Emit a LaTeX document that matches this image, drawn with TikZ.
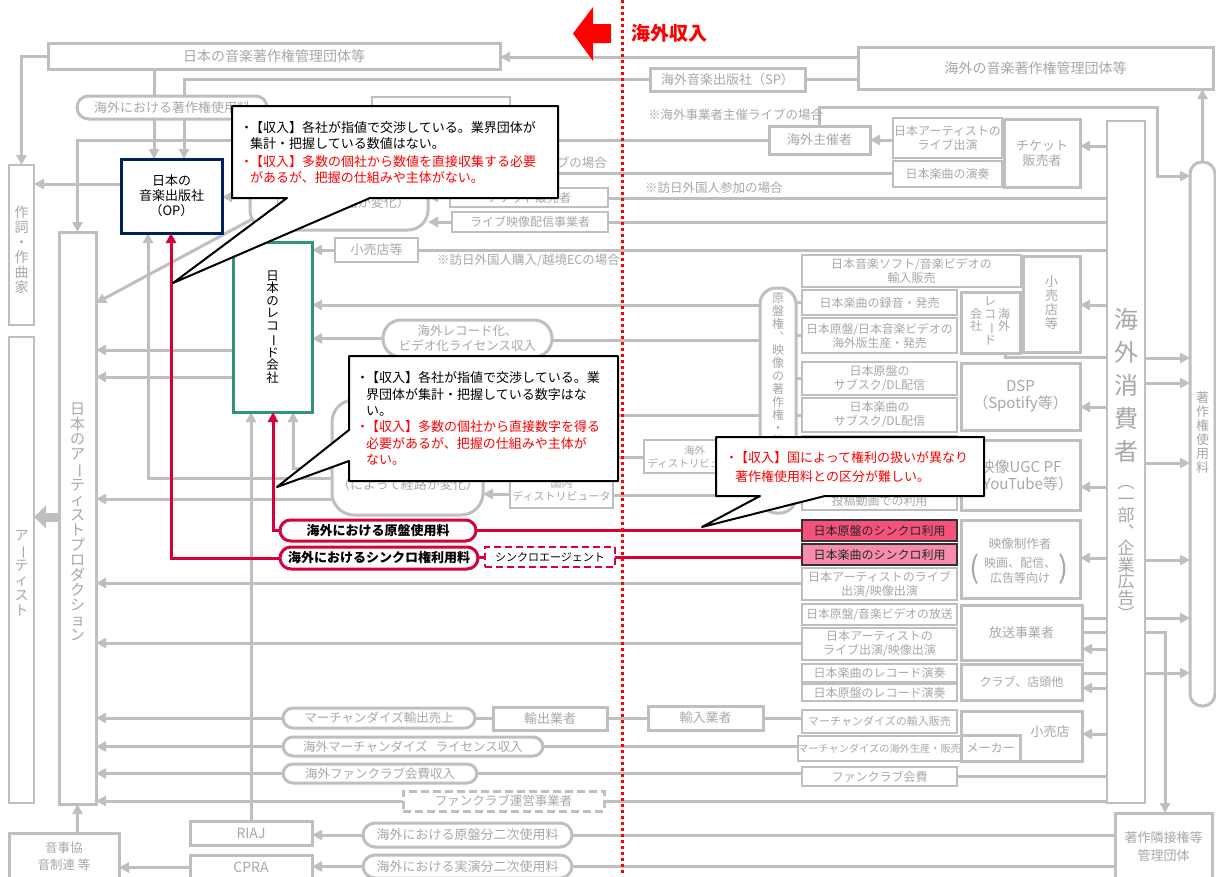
\documentclass[tikz,border=0pt]{standalone}
\usepackage{fontspec}
\setmainfont{Noto Sans CJK JP}
\usepackage{graphicx}
\usetikzlibrary{arrows.meta,calc}
\definecolor{lg}{RGB}{191,191,191}
\definecolor{tg}{RGB}{168,168,168}
\definecolor{navy}{RGB}{0,32,96}
\definecolor{rgreen}{RGB}{48,150,110}
\definecolor{crim}{RGB}{214,0,58}
\definecolor{pinkA}{RGB}{244,82,122}
\definecolor{pinkB}{RGB}{247,140,172}
\definecolor{hred}{RGB}{255,0,0}
\newcommand\fs[2]{\fontsize{#1}{#2}\selectfont}
\newcommand\vb{\rotatebox[origin=c]{-90}{ー}}
\newcommand\bul{\makebox[10pt][l]{・}}
\newcommand\mkbox[7][]{\node[#1,minimum width={#5-#3},minimum height={#6-#4}] (#2) at ({(#3+#5)/2},{(#4+#6)/2}) {#7};}
\pgfdeclarelayer{bg}\pgfsetlayers{bg,main}
\tikzset{
 base/.style={inner sep=0pt, outer sep=0pt, align=center, text=tg, font=\fs{13}{15}},
 gb/.style={base, draw=lg, line width=3pt, fill=white},
 tb/.style={base, draw=lg, line width=1.8pt, fill=white},
 pil/.style={gb, rounded corners=#1}, pil/.default=10pt,
 lbl/.style={inner sep=0pt, text=tg, font=\fs{12.5}{14}, align=center},
 gl/.style={draw=lg, line width=3pt},
 ga/.style={gl, -{Triangle[length=10pt,width=10pt]}},
 rl/.style={draw=crim, line width=3pt},
 ra/.style={rl, -{Triangle[length=10pt,width=10pt]}},
 call/.style={fill=white, draw=black, line width=2pt, line join=round},
 ctext/.style={anchor=north west, align=left, inner sep=0pt, font=\fs{13}{16}},
}
\begin{document}
\begin{tikzpicture}[x=1pt,y=-1pt]
\useasboundingbox (0,0) rectangle (1216,876);
% ---------- top ----------
\mkbox[gb,font=\fs{14}{16}]{jasrac}{48}{43}{500}{69}{日本の音楽著作権管理団体等}
\mkbox[gb,font=\fs{14}{16}]{fcmo}{858}{47}{1213}{89}{海外の音楽著作権管理団体等}
\mkbox[gb]{sp}{650}{68}{805}{91}{海外音楽出版社（SP）}
\mkbox[pil=11.5pt]{royal}{77}{96}{267}{119}{海外における著作権使用料}
\mkbox[gb,line width=2pt]{hid}{372}{97}{510}{125}{}
\mkbox[base,draw=navy,line width=3pt,fill=white,text=black]{op}{121}{159}{222}{233}{日本の\\音楽出版社\\（OP）}
\mkbox[tb]{writer}{9}{165}{34}{325}{}
\node[base,font=\fs{14}{15}] (writerT) at (21.5,250) {作\\詞\\・\\作\\曲\\家};
\mkbox[tb]{artist}{9}{337}{34}{803}{}
\node[base,font=\fs{14}{15}] (artistT) at (21.5,573) {ア\\\vb\\テ\\ィ\\ス\\ト};
\mkbox[gb]{prod}{59}{232}{96}{804}{}
\node[base,font=\fs{15}{15}] (prodT) at (77.5,522) {日\\本\\の\\ア\\\vb\\テ\\ィ\\ス\\ト\\プ\\ロ\\ダ\\ク\\シ\\ョ\\ン};
\mkbox[base,draw=rgreen,line width=3pt,fill=white]{rec}{233}{242}{312}{412}{}
\node[base,text=black,font=\fs{12.5}{12.5}] (recT) at (272.5,327) {日\\本\\の\\レ\\コ\\\vb\\ド\\会\\社};
\mkbox[gb,rounded corners=20pt]{route1}{250}{158}{428}{230}{}
\node[lbl,font=\fs{13}{15}] (route1T) at (339,203) {（によって経路が変化）};
\mkbox[gb]{kshu}{769}{126}{870}{154}{海外主催者}
\mkbox[tb,font=\fs{12}{14}]{liveperf}{893}{118}{1002}{158}{日本アーティストの\\ライブ出演}
\mkbox[tb,font=\fs{12}{14}]{perform}{893}{161}{1002}{187}{日本楽曲の演奏}
\mkbox[gb]{ticket}{1004}{119}{1080}{187}{チケット\\販売者}
\mkbox[gb,line width=2.5pt,font=\fs{12}{14}]{ticketjp}{450}{188}{608}{207}{チケット販売者}
\mkbox[gb,line width=2.5pt,font=\fs{12}{14}]{lstream}{452}{212}{608}{232}{ライブ映像配信事業者}
\mkbox[gb,line width=2.5pt]{retailjp}{335}{238}{418}{262}{小売店等}
\mkbox[tb]{consumer}{1107}{121}{1145}{803}{}
\node[base,font=\fs{24}{33}] (consT1) at (1126,385) {海\\外\\消\\費\\者};
\node[base,font=\fs{17}{16.5}] (consT2) at (1126,553) {︵\\一\\部\\︑\\企\\業\\広\\告\\︶};
\mkbox[gb,rounded corners=12pt]{copy}{1190}{162}{1215}{706}{}
\node[base,font=\fs{13}{14}] (copyT) at (1202.5,433) {著\\作\\権\\使\\用\\料};
\node[lbl,anchor=west] (lab1) at (648,115) {※海外事業者主催ライブの場合};
\node[lbl,anchor=west] (lab2) at (645,188) {※訪日外国人参加の場合};
\node[lbl,anchor=west] (lab3) at (437,260) {※訪日外国人購入/越境ECの場合};
\node[lbl,anchor=east] (lab4) at (607,163) {※日本事業者主催ライブの場合};
% ---------- right middle ----------
\mkbox[tb,font=\fs{12}{14}]{imsoft}{802}{255}{1021}{287}{日本音楽ソフト/音楽ビデオの\\輸入販売}
\mkbox[gb]{kouri}{1023}{256}{1080}{352}{}
\node[base,font=\fs{13}{14}] (kouriT) at (1051.5,303) {小\\売\\店\\等};
\mkbox[gb]{krec}{961}{292}{1020}{353}{}
\node[base,font=\fs{12}{12.5}] (krecT1) at (1004,320) {海\\外};
\node[base,font=\fs{12}{12.5}] (krecT2) at (990,321) {レ\\コ\\\vb\\ド};
\node[base,font=\fs{12}{12.5}] (krecT3) at (976,320) {会\\社};
\mkbox[tb,font=\fs{12}{14}]{rokuon}{802}{290}{957}{315}{日本楽曲の録音・発売}
\mkbox[tb,font=\fs{11.8}{14}]{kban}{802}{318}{957}{353}{日本原盤/日本音楽ビデオの\\海外版生産・発売}
\mkbox[tb,font=\fs{12}{14}]{subg}{802}{362}{957}{395}{日本原盤の\\サブスク/DL配信}
\mkbox[tb,font=\fs{12}{14}]{subm}{802}{398}{957}{432}{日本楽曲の\\サブスク/DL配信}
\mkbox[tb]{ugc1}{802}{436}{957}{471}{}
\mkbox[tb]{ugc2}{802}{475}{957}{510}{}
\node[lbl,font=\fs{12}{14}] (ugc2T) at (879.5,501) {投稿動画での利用};
\mkbox[gb,font=\fs{15}{17}]{dsp}{961}{363}{1080}{430}{DSP\\（Spotify等）}
\mkbox[gb,font=\fs{15}{17}]{ugcpf}{961}{440}{1080}{510}{映像UGC PF\\（YouTube等）}
\mkbox[base,draw=black!80,line width=1.5pt,fill=pinkA,text=black!85,font=\fs{12}{14}]{jsync}{802}{520}{957}{541}{日本原盤のシンクロ利用}
\mkbox[base,draw=black!80,line width=1.5pt,fill=pinkB,text=black!85,font=\fs{12}{14}]{msync}{802}{544}{957}{565}{日本楽曲のシンクロ利用}
\mkbox[tb,font=\fs{12}{14}]{livemv}{802}{568}{957}{600}{日本アーティストのライブ\\出演/映像出演}
\mkbox[gb]{eizo}{961}{520}{1080}{598}{}
\node[lbl,font=\fs{12.5}{14}] (eizoT1) at (1020,544) {映像制作者};
\node[lbl,font=\fs{12}{15}] (eizoT2) at (1020,571) {映画、配信、\\広告等向け};
\node[lbl,font=\fs{30}{30}] (eizoP1) at (975,569) {(};
\node[lbl,font=\fs{30}{30}] (eizoP2) at (1064,569) {)};
\mkbox[tb,font=\fs{11.8}{14}]{hosog}{802}{604}{957}{625}{日本原盤/音楽ビデオの放送}
\mkbox[tb,font=\fs{12}{14}]{hosol}{802}{628}{957}{660}{日本アーティストの\\ライブ出演/映像出演}
\mkbox[gb]{hoso}{961}{605}{1082}{660}{放送事業者}
\mkbox[tb,font=\fs{12}{14}]{rp1}{802}{664}{957}{682}{日本楽曲のレコード演奏}
\mkbox[tb,font=\fs{12}{14}]{rp2}{802}{684}{957}{701}{日本原盤のレコード演奏}
\mkbox[gb,font=\fs{12}{14}]{club}{961}{664}{1082}{700}{クラブ、店頭他}
\mkbox[tb,font=\fs{11}{13}]{mimp}{802}{710}{957}{733}{マーチャンダイズの輸入販売}
\mkbox[tb,font=\fs{10.2}{13}]{mprod}{802}{736}{957}{761}{マーチャンダイズの海外生産・販売}
\mkbox[tb,font=\fs{12}{14}]{fcfee}{802}{767}{957}{786}{ファンクラブ会費}
\mkbox[gb]{shop}{961}{711}{1082}{761}{}
\mkbox[gb,font=\fs{12}{14}]{maker}{961}{735}{1020}{761}{メーカー}
\node[lbl,font=\fs{13}{15}] (shopT) at (1050,732) {小売店};
\mkbox[gb,rounded corners=16pt]{genban}{760}{288}{796}{513}{}
\node[base,font=\fs{12}{13}] (genbanT) at (778,370) {原\\盤\\権\\︑\\映\\像\\の\\著\\作\\権\\・\\隣};
\mkbox[gb,rounded corners=18pt,font=\fs{12.5}{15}]{recpill}{383}{320}{552}{357}{海外レコード化、\\ビデオ化ライセンス収入}
\mkbox[gb,rounded corners=22pt]{route2}{332}{400}{483}{515}{}
\node[lbl,font=\fs{13}{15}] (route2T) at (408,485) {（によって経路が変化）};
\mkbox[gb,line width=2.5pt,font=\fs{11}{13}]{kdist}{510}{472}{613}{508}{国内\\ディストリビュータ}
\mkbox[gb,line width=2.5pt,font=\fs{10.5}{13}]{odist}{644}{440}{745}{473}{海外\\ディストリビュータ}
% ---------- red pills ----------
\mkbox[base,draw=crim,line width=3pt,fill=white,text=black,rounded corners=10.5pt,font={\fs{13}{15}\bfseries}]{genpill}{280}{520}{476}{541}{海外における原盤使用料}
\mkbox[base,draw=crim,line width=3pt,fill=white,text=black,rounded corners=11pt,font={\fs{13}{15}\bfseries}]{syncpill}{280}{547}{478}{569}{海外におけるシンクロ権利用料}
\mkbox[base,draw=crim,line width=2.5pt,dash pattern=on 7pt off 4pt,fill=white,text=black,font=\fs{11}{13}]{agent}{485}{547}{615}{567}{シンクロエージェント}
% ---------- bottom ----------
\mkbox[pil,font=\fs{12.5}{14}]{mexp}{283}{708}{475}{728}{マーチャンダイズ輸出売上}
\mkbox[gb]{exporter}{493}{707}{607}{730}{輸出業者}
\mkbox[gb]{importer}{648}{706}{763}{730}{輸入業者}
\mkbox[pil,font=\fs{12.5}{14}]{mlic}{283}{737}{543}{756}{海外マーチャンダイズ\hspace{8pt}ライセンス収入}
\mkbox[pil,font=\fs{12.5}{14}]{fcpill}{283}{764}{477}{783}{海外ファンクラブ会費収入}
\mkbox[gb,dash pattern=on 8pt off 4pt,font=\fs{12.5}{14}]{fcop}{403}{791}{604}{811}{ファンクラブ運営事業者}
\mkbox[gb,font=\fs{14}{16}]{riaj}{190}{821}{312}{845}{RIAJ}
\mkbox[gb,font=\fs{14}{16}]{cpra}{190}{855}{312}{880}{CPRA}
\mkbox[gb,font=\fs{12.5}{17}]{onji}{9}{833}{119}{880}{音事協\\音制連 等}
\mkbox[pil=12pt,font=\fs{13}{14}]{nijig}{363}{823}{572}{847}{海外における原盤分二次使用料}
\mkbox[pil=12pt,font=\fs{13}{14}]{nijij}{363}{855}{572}{878}{海外における実演分二次使用料}
\mkbox[gb,font=\fs{13}{18}]{rinsetsu}{1115}{813}{1212}{880}{著作隣接権等\\管理団体}
% ---------- gray connectors ----------
\begin{pgfonlayer}{bg}
\fill[white] (0,0) rectangle (1216,876);
\draw[ga] (fcmo.west |- 0,57) -- (jasrac.east |- 0,57);
\draw[gl] (sp.east) -- (fcmo.west |- sp.east);
\draw[ga] (sp.west) -| (op.north -| 184,0);
\draw[ga] (jasrac.west) -| (writer.north);
\draw[ga] (jasrac.south -| 154,0) -- (op.north -| 154,0);
\draw[ga] (op.west |- 0,184) -- (writer.east |- 0,184);
\draw[ga] (route1.west |- 0,197) -- (op.east |- 0,197);
\coordinate (d0) at (258,216);
\draw[ga] (d0) -- (prod.east |- 0,303);
\draw[ga] (kshu.west) -| (prod.north);
\draw[ga] (kshu.north) |- (1157,107) |- (copy.west |- 0,176);
\draw[ga] (liveperf.west |- 0,140) -- (kshu.east |- 0,140);
\draw[ga] (consumer.west |- 0,146) -- (ticket.east |- 0,146);
\draw[ga] (perform.west |- 0,173) -- (route1.east |- 0,173);
\draw[gl] (ticketjp.east |- 0,198) -- (consumer.west |- 0,198);
\draw[ga] (ticketjp.west |- 0,197) -- (route1.east |- 0,197);
\draw[gl] (lstream.east) -- (consumer.west |- lstream.east);
\draw[ga] (lstream.west) -- (route1.east |- lstream.west);
\draw[gl] (retailjp.east) -- (consumer.west |- retailjp.east);
\draw[ga] (retailjp.west) -- (rec.east |- retailjp.west);
\foreach \yy in {358,383,463,560,618,673} \draw[ga] (consumer.east |- 0,\yy) -- (copy.west |- 0,\yy);
\draw[ga] (copy.north) -- (fcmo.south -| copy.north);
\draw[ga] (consumer.west |- 0,305) -- (kouri.east |- 0,305);
\draw[ga] (consumer.west |- 0,407) -- (dsp.east |- 0,407);
\draw[ga] (consumer.west |- 0,487) -- (ugcpf.east |- 0,487);
\draw[ga] (consumer.west |- 0,558) -- (eizo.east |- 0,558);
\draw[gl] (hoso.east |- 0,618) -- (consumer.west |- 0,618);
\draw[gl] (hoso.east |- 0,632) -- (consumer.west |- 0,632);
\draw[ga] (consumer.west |- 0,649) -- (hoso.east |- 0,649);
\draw[ga] (consumer.east |- 0,632) -| (rinsetsu.north -| 1165,0);
\draw[gl] (club.east |- 0,673) -- (consumer.west |- 0,673);
\draw[ga] (consumer.west |- 0,688) -- (club.east |- 0,688);
\draw[ga] (consumer.west |- 0,734) -- (shop.east |- 0,734);
\draw[gl] (fcfee.east) -- (consumer.west |- fcfee.east);
\draw[gl] (fcop.east) -- (consumer.west |- fcop.east);
\draw[gl] (krec.south -| 1005,0) |- (consumer.west |- 0,357);
\foreach \nm in {rokuon,kban,subg,subm,ugc1,ugc2} \draw[gl] (genban.east |- \nm.west) -- (\nm.west);
\draw[ga] (genban.west |- 0,305) -- (rec.east |- 0,305);
\draw[gl] (genban.west |- 0,340) -- (recpill.east |- 0,340);
\draw[ga] (recpill.west) -- (rec.east |- recpill.west);
\draw[ga] (genban.west |- 0,415) -- (route2.east |- 0,415);
\draw[gl] (genban.west |- 0,457) -- (odist.east |- 0,457);
\draw[ga] (odist.west |- 0,457) -- (route2.east |- 0,457);
\draw[gl] (genban.west |- 0,495) -- (kdist.east |- 0,495);
\draw[ga] (kdist.west |- 0,494) -- (route2.east |- 0,494);
\draw[ga] (route2.west |- 0,478) -| (op.south -| 148,0);
\draw[ga] (route2.west |- 0,499) -- (prod.east |- 0,499);
\draw[ga] (route2.west |- 0,468) -| (rec.south -| 293,0);
\draw[ga] (rec.west |- 0,350) -- (prod.east |- 0,350);
\draw[ga] (rec.west |- 0,377) -- (prod.east |- 0,377);
\draw[ga] (riaj.north) -- (rec.south -| riaj.north);
\draw[ga] (nijig.west) -- (riaj.east |- nijig.west);
\draw[ga] (nijij.west) -- (cpra.east |- nijij.west);
\draw[ga] (cpra.west) -- (onji.east |- cpra.west);
\draw[ga] (prod.south |- onji.north) -- (prod.south);
\draw[gl] (nijig.east) -- (rinsetsu.west |- nijig.east);
\draw[gl] (nijij.east) -- (rinsetsu.west |- nijij.east);
\draw[ga] (mexp.west) -- (prod.east |- mexp.west);
\draw[gl] (mexp.east) -- (exporter.west |- mexp.east);
\draw[gl] (exporter.east) -- (importer.west |- exporter.east);
\draw[gl] (importer.east) -- (mimp.west |- importer.east);
\draw[ga] (mlic.west) -- (prod.east |- mlic.west);
\draw[gl] (mlic.east) -- (mprod.west |- mlic.east);
\draw[ga] (fcpill.west) -- (prod.east |- fcpill.west);
\draw[gl] (fcpill.east) -- (fcfee.west |- fcpill.east);
\draw[ga] (fcop.west) -- (prod.east |- fcop.west);
\draw[ga] (livemv.west |- 0,583) -- (prod.east |- 0,583);
\draw[ga] (hosol.west |- 0,643) -- (prod.east |- 0,643);
\draw[draw=lg, line width=9pt, -{Triangle[length=12pt,width=22pt]}] (prod.west |- 0,517) -- (artist.east |- 0,517);
\end{pgfonlayer}
% ---------- red connectors ----------
\draw[rl] (jsync.west) -- (genpill.east |- jsync.west);
\draw[ra] (genpill.west) -| (rec.south -| 273,0);
\draw[rl] (msync.west |- agent.east) -- (agent.east);
\draw[rl] (agent.west) -- (syncpill.east |- agent.west);
\draw[ra] (syncpill.west) -| (op.south -| 171,0);
% ---------- header ----------
\coordinate (dtop) at (622,0);
\coordinate (dbot) at (622,876);
\draw[hred, line width=3pt, dash pattern=on 3pt off 3pt] (dtop) -- (dbot);
\fill[hred] (611,24) -- (593,24) -- (593,7) -- (573,33.5) -- (593,61) -- (593,43) -- (611,43) -- cycle;
\node[anchor=west, inner sep=0pt, text=hred, font={\fs{19}{21}\bfseries}] (head) at (631,33) {海外収入};
% ---------- callouts ----------
\draw[call] (232,106) -- (558,106) -- (558,198) -- (370,198) -- (173,283) -- (287,198) -- (232,198) -- cycle;
\node[ctext,text=black] (c1a) at (240,121.5) {\bul【収入】各社が指値で交渉している。業界団体が\\\hspace*{10pt}集計・把握している数値はない。};
\node[ctext,text=hred] (c1b) at (240,155.5) {\bul【収入】多数の個社から数値を直接収集する必要\\\hspace*{10pt}があるが、把握の仕組みや主体がない。};
\draw[call] (349,356) -- (618,356) -- (618,481) -- (349,481) -- (349,461) -- (277,487) -- (349,430) -- cycle;
\node[ctext,text=black,font=\fs{13}{16.5}] (c2a) at (356,371.5) {\bul【収入】各社が指値で交渉している。業\\\hspace*{10pt}界団体が集計・把握している数字はな\\\hspace*{10pt}い。};
\node[ctext,text=hred,font=\fs{13}{16.5}] (c2b) at (356,420.5) {\bul【収入】多数の個社から直接数字を得る\\\hspace*{10pt}必要があるが、把握の仕組みや主体が\\\hspace*{10pt}ない。};
\draw[call] (716,437) -- (984,437) -- (984,496) -- (825,496) -- (702,527) -- (760,496) -- (716,496) -- cycle;
\node[ctext,text=hred,font=\fs{13}{19}] (c3) at (725,451.5) {\bul【収入】国によって権利の扱いが異なり\\\hspace*{10pt}著作権使用料との区分が難しい。};
\end{tikzpicture}
\end{document}
